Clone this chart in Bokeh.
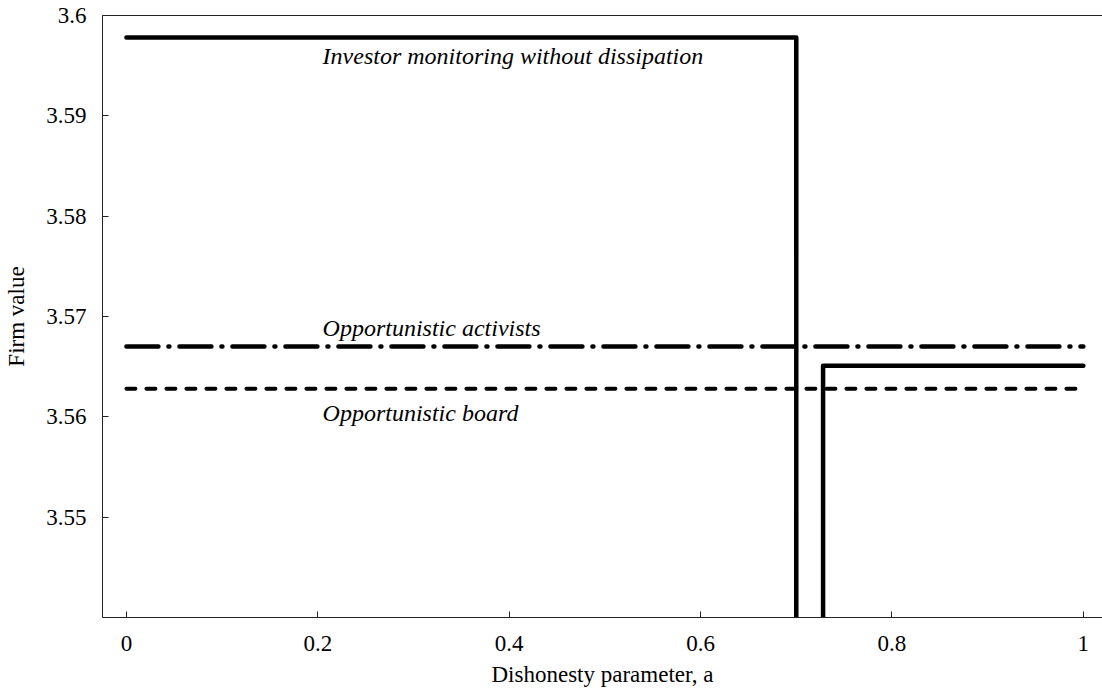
from bokeh.plotting import figure
from bokeh.models import Range1d, LinearAxis, FixedTicker
from bokeh.core.properties import value
from bokeh.embed import file_html
from bokeh.resources import INLINE

# Data
monitor_a = [0.0, 0.7, 0.7]
monitor_v = [3.5978, 3.5978, 3.53]
monitor2_a = [0.728, 0.728, 1.0]
monitor2_v = [3.53, 3.5651, 3.5651]
activist_a = [0.0, 1.0]
activist_v = [3.567, 3.567]
board_a = [0.0, 1.0]
board_v = [3.5628, 3.5628]

x_ticks = [0, 0.2, 0.4, 0.6, 0.8, 1]
y_ticks = [3.55, 3.56, 3.57, 3.58, 3.59, 3.6]

label_texts = ["Investor monitoring without dissipation", "Opportunistic activists", "Opportunistic board"]
label_a = [0.205, 0.205, 0.205]
label_v = [3.59595, 3.56885, 3.56037]

FONT = "Liberation Serif"

p = figure(width=1102, height=694, output_backend="svg", toolbar_location=None,
           x_range=Range1d(-0.025, 1.02), y_range=Range1d(3.54, 3.6),
           min_border_left=102, min_border_right=0, min_border_top=15, min_border_bottom=77)
p.outline_line_color = None
p.grid.grid_line_color = None
p.background_fill_color = "white"
p.border_fill_color = "white"

for ax in (p.xaxis[0], p.yaxis[0]):
    ax.major_tick_in = 6
    ax.major_tick_out = 0
    ax.minor_tick_line_color = None
    ax.axis_line_color = "#222222"
    ax.major_tick_line_color = "#222222"
    ax.major_label_text_font = FONT
    ax.major_label_text_font_size = "23px"
    ax.major_label_text_color = "black"
    ax.axis_label_text_font = FONT
    ax.axis_label_text_font_size = "23px"
    ax.axis_label_text_font_style = "normal"
    ax.axis_label_text_color = "black"

p.xaxis.ticker = FixedTicker(ticks=x_ticks)
p.yaxis.ticker = FixedTicker(ticks=y_ticks)
p.xaxis.major_label_overrides = {0: "0", 1: "1"}
p.yaxis.major_label_overrides = {3.6: "3.6"}
p.xaxis.axis_label = "Dishonesty parameter, a"
p.yaxis.axis_label = "Firm value"
p.xaxis.major_label_standoff = 18
p.xaxis.axis_label_standoff = 8
p.yaxis.major_label_standoff = 16
p.yaxis.axis_label_standoff = 14

top = LinearAxis(major_tick_in=0, major_tick_out=0, minor_tick_in=0, minor_tick_out=0,
                 major_label_text_font_size="0px", axis_line_color="#222222",
                 major_tick_line_color=None, minor_tick_line_color=None)
top.ticker = FixedTicker(ticks=[])
p.add_layout(top, "above")

lw = 4.5
p.line(monitor_a, monitor_v, line_color="black", line_width=lw, line_cap="round", line_join="round")
p.line(monitor2_a, monitor2_v, line_color="black", line_width=lw, line_cap="round", line_join="round")
p.line(activist_a, activist_v, line_color="black", line_width=lw, line_cap="round", line_dash="32 10 1 10")
p.line(board_a, board_v, line_color="black", line_width=lw - 0.5, line_cap="round", line_dash="9 11")

p.text(x=label_a, y=label_v, text=label_texts, text_font=value(FONT), text_font_size="24px",
       text_font_style="italic", text_color="black", text_baseline="alphabetic", text_align="left")

open("out.html", "w").write(file_html(p, INLINE))
